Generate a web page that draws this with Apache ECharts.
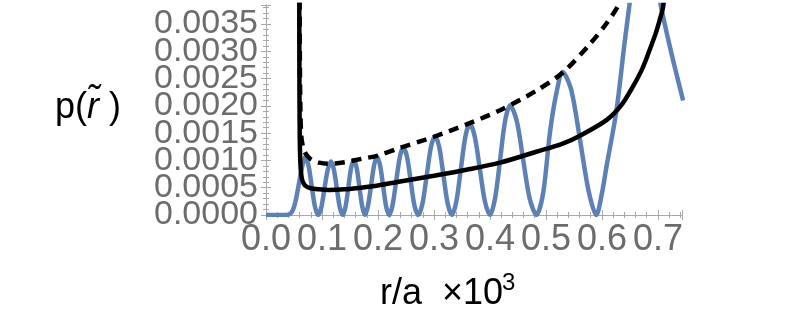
<!DOCTYPE html>
<html>
<head>
<meta charset="utf-8">
<script src="https://cdn.jsdelivr.net/npm/echarts@6/dist/echarts.min.js"></script>
<style>
  html, body { margin: 0; padding: 0; background: #fff; }
  #chart { width: 793px; height: 326px; }
</style>
</head>
<body>
<div id="chart"></div>
<script>
// quantum probability (blue)
var blueX = [0, 0.035, 0.045, 0.052, 0.061, 0.066, 0.070,
  0.0758, 0.0815, 0.0873, 0.093,
  0.0988, 0.1045, 0.1103, 0.116,
  0.1213, 0.1265, 0.1318, 0.137,
  0.142, 0.147, 0.152, 0.157,
  0.162, 0.167, 0.172, 0.177,
  0.182, 0.1875, 0.193, 0.198,
  0.2035, 0.209, 0.2145, 0.220,
  0.226, 0.2325, 0.239, 0.245,
  0.252, 0.2585, 0.265, 0.272,
  0.2795, 0.287, 0.2945, 0.302,
  0.3095, 0.317, 0.3245, 0.332,
  0.340, 0.348, 0.356, 0.364,
  0.373, 0.382, 0.391, 0.400,
  0.409, 0.418, 0.427, 0.436,
  0.448, 0.4595, 0.471, 0.483,
  0.495, 0.507, 0.518, 0.530,
  0.545, 0.561, 0.576, 0.590,
  0.600, 0.608, 0.626, 0.641, 0.660, 0.675, 0.690, 0.704, 0.724, 0.745]
var blueY = [0, 0, 0.00004, 0.00022, 0.0007, 0.00095, 0.00107,
  0.00091, 0.00054, 0.00016, 0,
  0.00014, 0.00049, 0.00083, 0.00098,
  0.00083, 0.00049, 0.00014, 0,
  0.00015, 0.0005, 0.00086, 0.00101,
  0.00086, 0.0005, 0.00015, 0,
  0.00016, 0.00053, 0.00091, 0.00107,
  0.00092, 0.00055, 0.00016, 0,
  0.00018, 0.00062, 0.00106, 0.00124,
  0.00106, 0.00062, 0.00018, 0,
  0.00021, 0.00072, 0.00124, 0.00145,
  0.00124, 0.00072, 0.00021, 0,
  0.00025, 0.00084, 0.00143, 0.00168,
  0.00143, 0.00084, 0.00025, 0,
  0.0003, 0.001, 0.00172, 0.00201,
  0.00172, 0.001, 0.0003, 0,
  0.0004, 0.0015, 0.0022, 0.00262,
  0.0023, 0.00137, 0.00045, 0,
  0.0004, 0.00088, 0.00192, 0.0032, 0.0046, 0.0051, 0.0048, 0.0039, 0.00297, 0.0021]

// classical probability (solid black)
var solidX = [0.0593, 0.0595, 0.0598, 0.0603, 0.0612, 0.0625, 0.065, 0.07, 0.08, 0.095, 0.112, 0.14, 0.17, 0.2,
  0.237, 0.3, 0.358, 0.418, 0.483, 0.53, 0.56, 0.608, 0.635, 0.655, 0.672, 0.685, 0.696, 0.703, 0.709, 0.713, 0.716]
var solidY = [0.006, 0.0035, 0.0022, 0.0014, 0.001, 0.00078, 0.00063, 0.00054, 0.00049, 0.00047, 0.00046, 0.00047, 0.0005, 0.00054,
  0.00061, 0.00072, 0.00083, 0.00096, 0.00116, 0.00131, 0.00145, 0.00174, 0.00202, 0.00235, 0.00268, 0.00302, 0.00333, 0.00357, 0.0038, 0.0042, 0.005]

// envelope (dashed)
var dashX = [0.0597, 0.0600, 0.0605, 0.0615, 0.063, 0.066, 0.070, 0.076, 0.082, 0.095, 0.112, 0.142, 0.171, 0.2,
  0.239, 0.299, 0.358, 0.418, 0.483, 0.531, 0.579, 0.608, 0.632, 0.65, 0.665]
var dashY = [0.008, 0.0045, 0.0028, 0.0019, 0.00145, 0.00125, 0.00114, 0.00106, 0.00101, 0.00096, 0.00094, 0.00097, 0.00103, 0.00109,
  0.00123, 0.00143, 0.00166, 0.00192, 0.00228, 0.00262, 0.00314, 0.00351, 0.0039, 0.0045, 0.0052]

var xTicks = [0, 0.1, 0.2, 0.3, 0.4, 0.5, 0.6, 0.7]
var yTicks = [0, 0.0005, 0.001, 0.0015, 0.002, 0.0025, 0.003, 0.0035]

function pairs(xs, ys) {
  var out = []
  for (var i = 0; i < xs.length; i++) out.push([xs[i], ys[i]])
  return out
}
function isTick(list, v) {
  for (var i = 0; i < list.length; i++) {
    if (Math.abs(list[i] - v) < 1e-9) return true
  }
  return false
}

var frame = '#a8a8a8'
var labelGrey = '#6c6c6c'
var font = 'Liberation Sans'

function xAxis(pos, labels) {
  return {
    type: 'value', position: pos, min: 0, max: 0.743, interval: 0.1,
    axisLine: { show: true, lineStyle: { color: frame, width: 1 } },
    axisTick: { show: true, inside: true, length: 5, lineStyle: { color: frame } },
    minorTick: { show: true, splitNumber: 5, length: 3, lineStyle: { color: frame } },
    splitLine: { show: false },
    axisLabel: {
      show: labels, margin: 7, fontSize: 36, fontFamily: font, color: labelGrey,
      showMinLabel: true, showMaxLabel: false, hideOverlap: false,
      formatter: function (v) { return isTick(xTicks, v) ? v.toFixed(1) : '' }
    }
  }
}
// which: 'main' labels 0.0005..0.0035, 'zero' only labels 0.0000, 'none' is the right frame
function yAxis(pos, which) {
  return {
    type: 'value', position: pos, min: 0, max: 0.00385, interval: 0.0005,
    axisLine: { show: which !== 'zero', lineStyle: { color: frame, width: 1 } },
    axisTick: { show: which !== 'zero', inside: true, length: 5, lineStyle: { color: frame } },
    minorTick: { show: which !== 'zero', splitNumber: 5, length: 3, lineStyle: { color: frame } },
    splitLine: { show: false },
    axisLabel: {
      show: which !== 'none', margin: 8, fontSize: 34, fontFamily: font, color: labelGrey,
      showMinLabel: which === 'zero', showMaxLabel: false, hideOverlap: false,
      formatter: function (v) {
        if (!isTick(yTicks, v)) return ''
        if (which === 'zero') return v === 0 ? v.toFixed(4) : ''
        return v.toFixed(4)
      }
    }
  }
}

var myChart = echarts.init(document.getElementById('chart'), null, { renderer: 'canvas' })
var option = {
  animation: false,
  backgroundColor: '#fff',
  grid: { left: 266, right: 111, top: 5, bottom: 111 },
  xAxis: [xAxis('bottom', true), xAxis('top', false)],
  yAxis: [yAxis('left', 'main'), yAxis('right', 'none'), yAxis('left', 'zero')],
  graphic: [
    {
      type: 'text',
      style: {
        x: 55, y: 108, verticalAlign: 'middle',
        text: '{a|p(}{b|r\u0303}{a| )}',
        rich: {
          a: { fontSize: 36, fontFamily: font, fill: '#000' },
          b: { fontSize: 36, fontFamily: font, fontStyle: 'italic', fill: '#000' }
        }
      }
    },
    {
      type: 'text',
      style: { x: 380, y: 294, verticalAlign: 'middle', text: 'r/a  \u00d710', fontSize: 36, fontFamily: font, fill: '#000' }
    },
    {
      type: 'text',
      style: { x: 502, y: 283, verticalAlign: 'middle', text: '3', fontSize: 24, fontFamily: font, fill: '#000' }
    }
  ],
  series: [
    {
      type: 'line', data: pairs(blueX, blueY), showSymbol: false, smooth: 0.3,
      lineStyle: { color: '#5e81b5', width: 4.5 }
    },
    {
      type: 'line', data: pairs(dashX, dashY), showSymbol: false, smooth: 0.3,
      lineStyle: { color: '#000', width: 4.5, type: [10, 7] }
    },
    {
      type: 'line', data: pairs(solidX, solidY), showSymbol: false, smooth: 0.3,
      lineStyle: { color: '#000', width: 4.5 }
    }
  ]
}
myChart.setOption(option)
</script>
</body>
</html>
